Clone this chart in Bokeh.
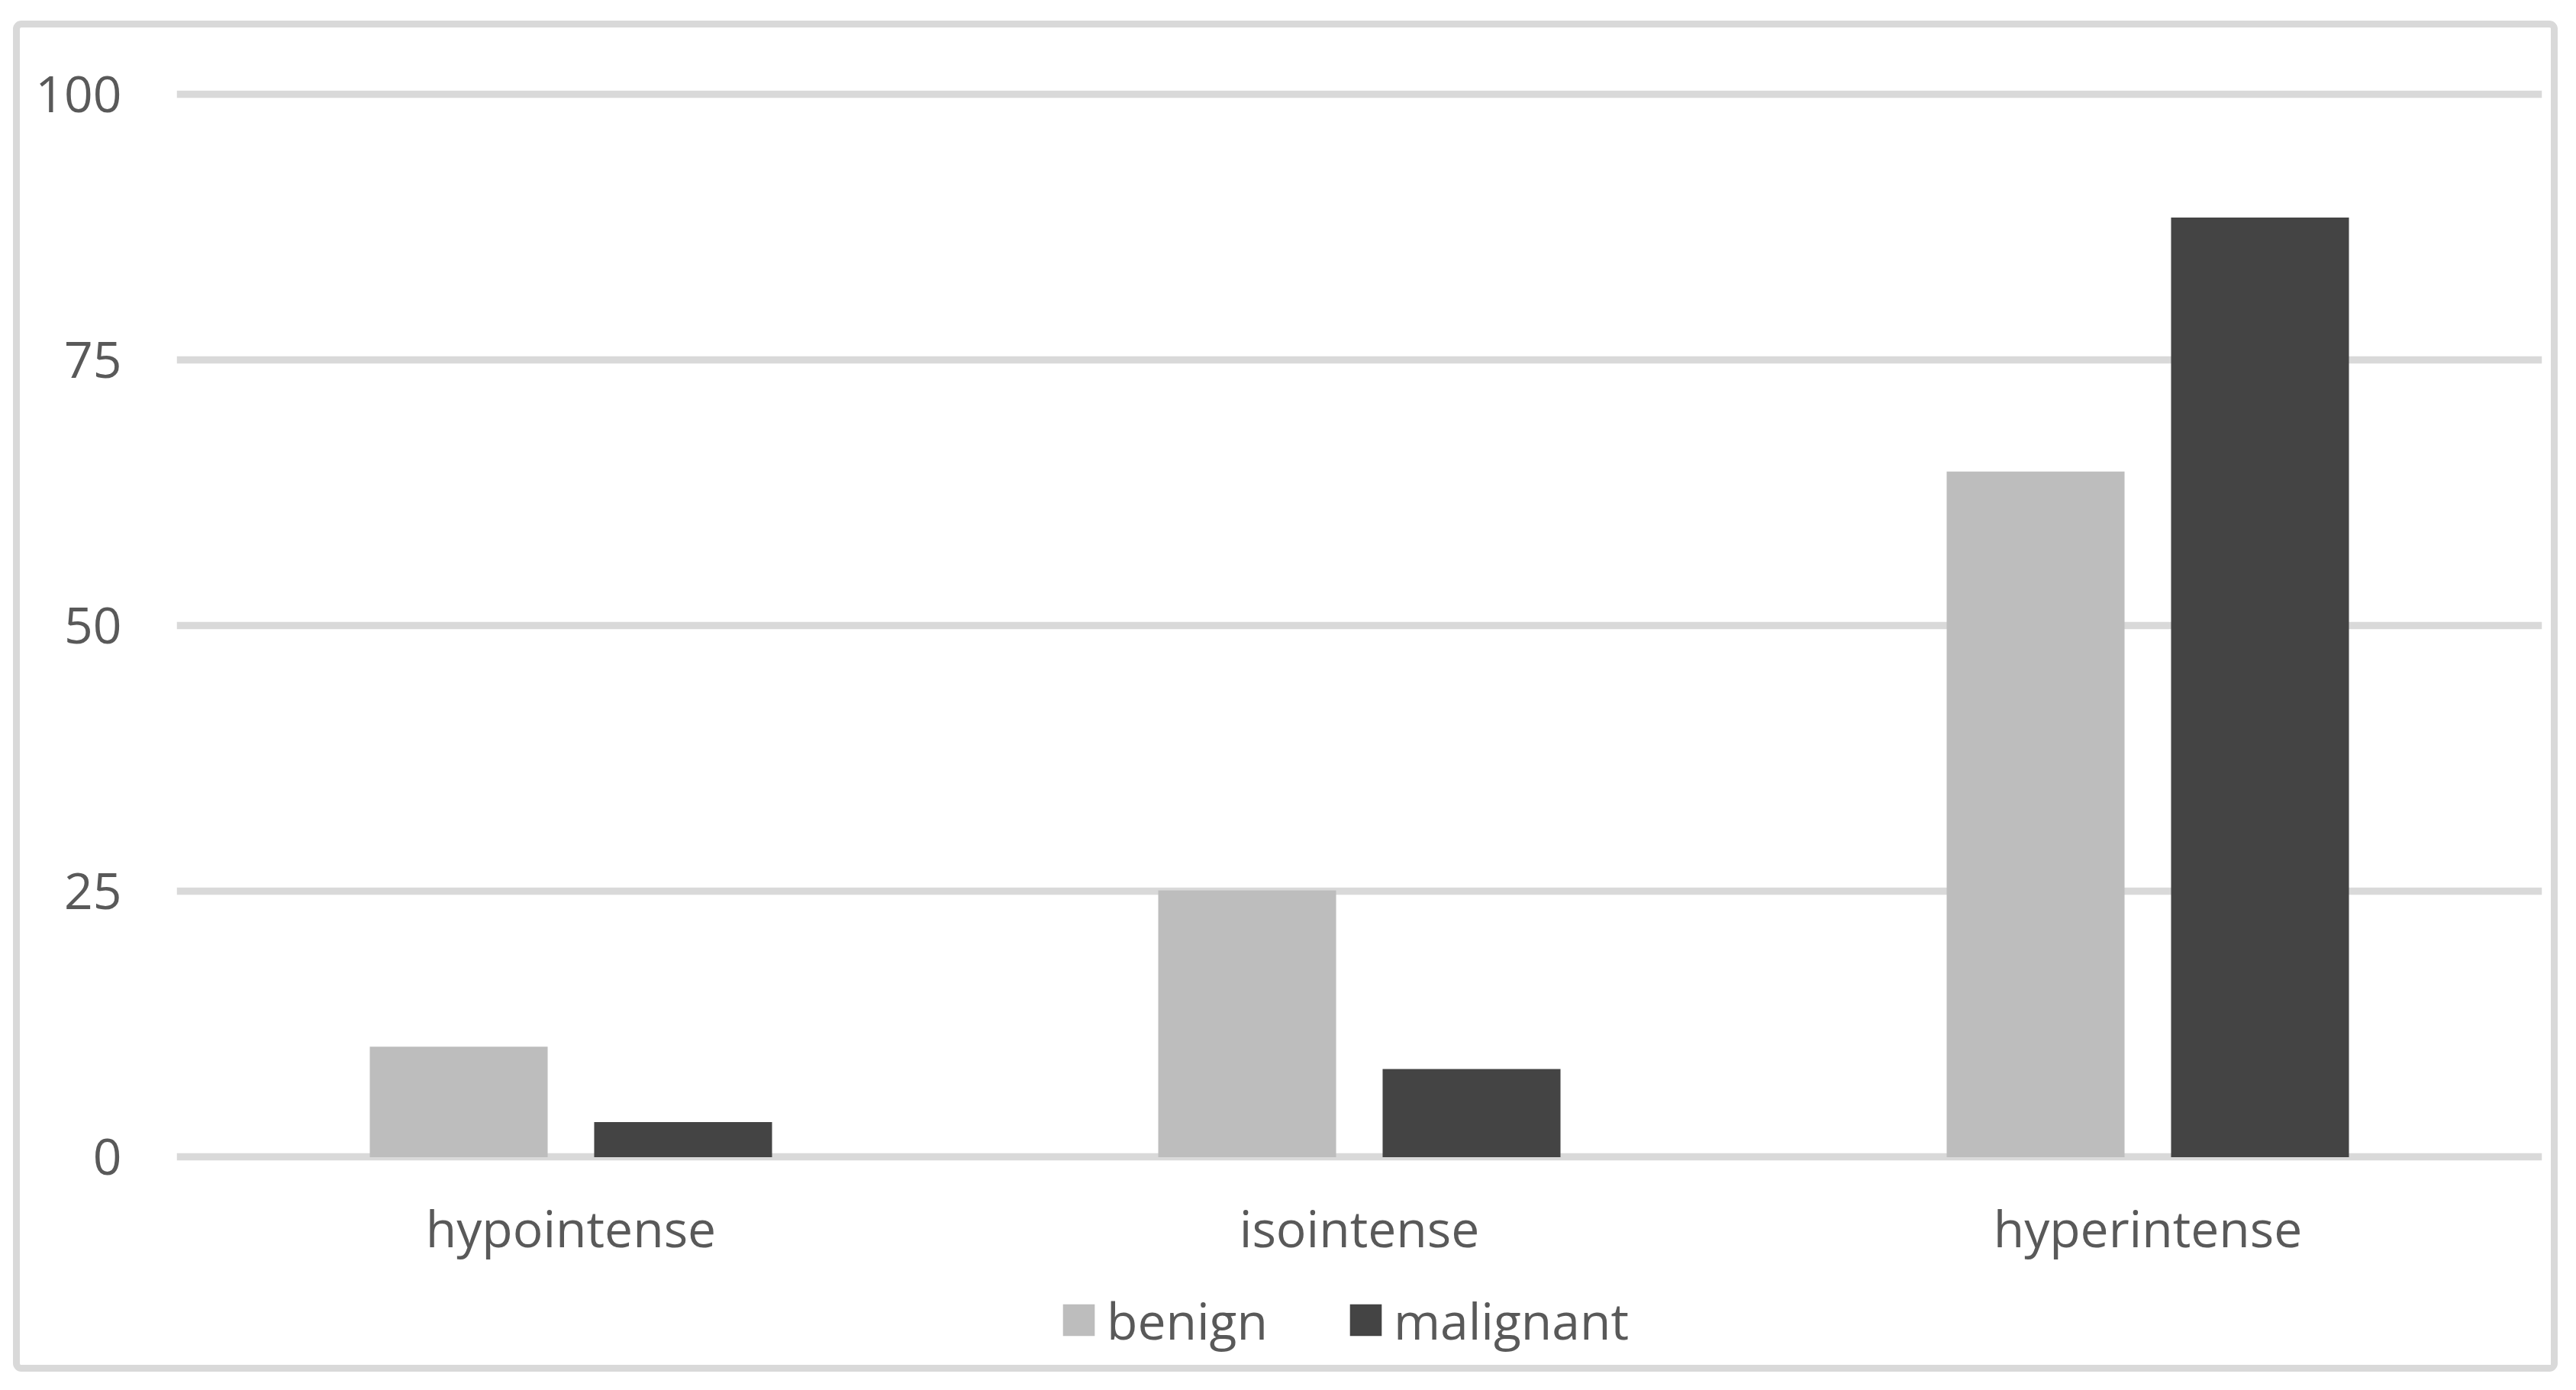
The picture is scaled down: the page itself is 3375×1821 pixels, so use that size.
from bokeh.plotting import figure
from bokeh.models import (FactorRange, Range1d, ColumnDataSource, FixedTicker,
                          Legend, LegendItem)
from bokeh.transform import dodge
from bokeh.embed import file_html
from bokeh.resources import INLINE

categories = ["hypointense", "isointense", "hyperintense"]
benign = [10.4, 25.1, 64.5]
malignant = [3.3, 8.3, 88.4]
y_ticks = [0, 25, 50, 75, 100]

FONT = "Open Sans"
TEXT_COLOR = "#595959"
GRID_COLOR = "#d9d9d9"

source = ColumnDataSource(data=dict(cat=categories, benign=benign, malignant=malignant))

p = figure(
    x_range=FactorRange(*categories, range_padding=0),
    y_range=Range1d(-19.57, 100.5),
    width=3316, height=1752,
    output_backend="svg", toolbar_location=None,
    min_border_left=205, min_border_right=12,
    min_border_top=80, min_border_bottom=0,
    margin=(36, 0, 0, 26),
    styles={"outline": "9px solid #d9d9d9", "outline-offset": "0px",
            "border-radius": "2px"},
)

r1 = p.vbar(x=dodge("cat", -0.1423, range=p.x_range), top="benign", bottom=0,
            width=0.2256, source=source, fill_color="#bdbdbd", line_color=None)
r2 = p.vbar(x=dodge("cat", 0.1423, range=p.x_range), top="malignant", bottom=0,
            width=0.2256, source=source, fill_color="#444444", line_color=None)

p.outline_line_color = None
p.background_fill_color = "white"
p.border_fill_color = "white"

p.xgrid.grid_line_color = None
p.ygrid.grid_line_color = GRID_COLOR
p.ygrid.grid_line_width = 9.5
p.yaxis.ticker = FixedTicker(ticks=y_ticks)

for ax in (p.xaxis[0], p.yaxis[0]):
    ax.axis_line_color = None
    ax.major_tick_line_color = None
    ax.minor_tick_line_color = None
    ax.major_tick_in = 0
    ax.major_tick_out = 0
    ax.major_label_text_font = FONT
    ax.major_label_text_font_size = "66px"
    ax.major_label_text_color = TEXT_COLOR

p.yaxis.major_label_standoff = 72
p.xaxis.fixed_location = 0
p.xaxis.major_label_standoff = 47

legend = Legend(
    items=[LegendItem(label="benign", renderers=[r1]),
           LegendItem(label="malignant", renderers=[r2])],
    orientation="horizontal",
    location=(1156, 14),
    glyph_width=52, glyph_height=52,
    label_text_font=FONT, label_text_font_size="66px",
    label_text_color=TEXT_COLOR,
    label_standoff=11, spacing=102, padding=0, margin=0,
    border_line_color=None, background_fill_alpha=0,
)
p.add_layout(legend)

open("out.html", "w").write(file_html(p, INLINE))
